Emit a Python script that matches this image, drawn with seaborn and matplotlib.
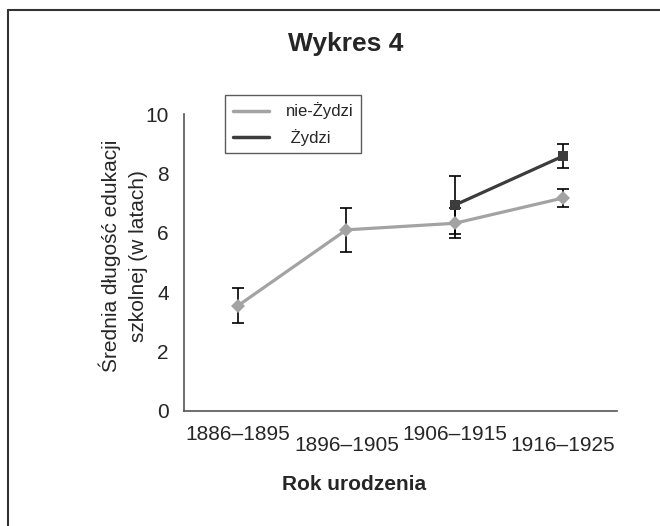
import numpy as np
import pandas as pd
import matplotlib
matplotlib.use("Agg")
import matplotlib.pyplot as plt
from matplotlib.lines import Line2D
import seaborn as sns

categories = ["1886–1895", "1896–1905", "1906–1915", "1916–1925"]
nie_zydzi = [3.55, 6.10, 6.32, 7.17]
nie_zydzi_err = [0.59, 0.74, 0.50, 0.29]
zydzi = [np.nan, np.nan, 6.93, 8.58]
zydzi_err = [np.nan, np.nan, 0.98, 0.41]
series_names = ["nie-Żydzi", "Żydzi"]
yticks = [0, 2, 4, 6, 8, 10]

light = "#a3a3a3"
dark = "#3c3c3c"

sns.set_theme(style="white")
plt.rcParams["font.family"] = ["Liberation Sans", "DejaVu Sans"]

df = pd.DataFrame({
    "x": list(range(len(categories))) * 2,
    "y": nie_zydzi + zydzi,
    "err": nie_zydzi_err + zydzi_err,
    "grupa": [series_names[0]] * len(categories) + [series_names[1]] * len(categories),
})

fig = plt.figure(figsize=(6.6, 5.26), dpi=100)
ax = fig.add_axes([184 / 660, 1 - 411 / 526, 433 / 660, 297 / 526])

# error bars (drawn first, below lines)
for name in series_names:
    sub = df[df["grupa"] == name].dropna()
    ax.errorbar(sub["x"], sub["y"], yerr=sub["err"], fmt="none", ecolor="black",
                elinewidth=1.2, capsize=4.5, capthick=1.2, zorder=2)

sns.lineplot(data=df.dropna(), x="x", y="y", hue="grupa", style="grupa",
             hue_order=series_names, style_order=series_names,
             palette={series_names[0]: light, series_names[1]: dark},
             markers={series_names[0]: "D", series_names[1]: "s"},
             dashes=False, linewidth=2.3, markersize=7, markeredgewidth=0,
             ax=ax, zorder=3, legend=False)

ax.set_xlim(-0.5, len(categories) - 0.5)
ax.set_ylim(0, 10)
ax.set_yticks(yticks)
ax.set_yticklabels([str(v) for v in yticks], fontsize=15)
ax.set_xticks(np.arange(len(categories) + 1) - 0.5)
ax.set_xticklabels([])
ax.set_xticks(np.arange(len(categories)), minor=True)
ax.set_xticklabels(categories, minor=True, fontsize=15)
ax.tick_params(axis="x", which="major", direction="out", length=7, width=1, color="#555555")
ax.tick_params(axis="x", which="minor", length=0)
ax.tick_params(axis="y", direction="out", length=7, width=1, color="#555555", pad=4)
for i, t in enumerate(ax.xaxis.get_minor_ticks()):
    t.set_pad(10 if i % 2 == 0 else 18)

for s in ["top", "right"]:
    ax.spines[s].set_visible(False)
for s in ["left", "bottom"]:
    ax.spines[s].set_color("#555555")
    ax.spines[s].set_linewidth(1.2)

ax.set_xlabel("")
ax.set_ylabel("Średnia długość edukacji\nszkolnej (w latach)", fontsize=15, linespacing=1.5)
ax.yaxis.set_label_coords((123 - 184) / 433, (411 - 256) / 297)
ax.yaxis.label.set_va("center")

fig.text(346 / 660, 1 - 44 / 526, "Wykres 4", fontsize=19, fontweight="bold",
         ha="center", va="center")
fig.text(354 / 660, 1 - 485 / 526, "Rok urodzenia", fontsize=15, fontweight="bold",
         ha="center", va="center")

handles = [Line2D([], [], color=light, lw=2.5), Line2D([], [], color=dark, lw=2.5)]
leg = ax.legend(handles, ["nie-Żydzi", " Żydzi"], loc="upper left",
                bbox_to_anchor=((225 - 184) / 433, (411 - 95) / 297),
                fontsize=12, frameon=True, fancybox=False, handlelength=2.2,
                handletextpad=1.0, borderpad=0.45, labelspacing=0.55, borderaxespad=0)
leg.get_frame().set_edgecolor("#333333")
leg.get_frame().set_linewidth(1)

# outer frame (top and left edges)
fig.add_artist(Line2D([8 / 660, 8 / 660], [0, 1 - 10 / 526], transform=fig.transFigure,
                      color="#333333", lw=1.5))
fig.add_artist(Line2D([8 / 660, 1], [1 - 10 / 526, 1 - 10 / 526], transform=fig.transFigure,
                      color="#333333", lw=1.5))

fig.savefig("out.png", dpi=100)
